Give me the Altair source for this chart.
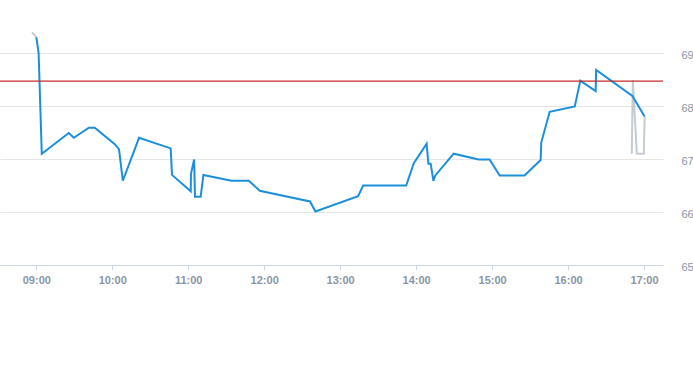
import altair as alt
import pandas as pd

DAY = "2024-01-02T"

# Main session (blue)
main_times = ["09:00:00", "09:01:50", "09:04:20", "09:25:40", "09:29:40", "09:41:30", "09:46:10",
              "10:02:00", "10:05:20", "10:08:20", "10:21:10", "10:46:10", "10:47:10", "11:02:00",
              "11:02:10", "11:04:40", "11:05:20", "11:09:50", "11:12:00", "11:34:10", "11:47:50",
              "11:56:30", "12:36:10", "12:40:30", "13:14:10", "13:18:10", "13:52:10", "13:58:10",
              "14:08:20", "14:09:40", "14:11:30", "14:13:40", "14:15:10", "14:29:40", "14:49:20",
              "14:58:00", "15:06:00", "15:25:40", "15:38:20", "15:38:50", "15:45:30", "16:05:20",
              "16:09:40", "16:21:50", "16:22:10", "16:50:50", "17:00:30"]
main_values = [69.30, 69.00, 67.10, 67.49, 67.40, 67.59, 67.59,
               67.28, 67.18, 66.59, 67.40, 67.20, 66.70, 66.39,
               66.72, 66.99, 66.29, 66.29, 66.70, 66.59, 66.59,
               66.40, 66.20, 66.01, 66.30, 66.50, 66.50, 66.92,
               67.29, 66.91, 66.91, 66.59, 66.69, 67.10, 66.99,
               66.99, 66.69, 66.69, 66.98, 67.31, 67.89, 67.99,
               68.48, 68.28, 68.68, 68.19, 67.80]

# Pre / post session (grey)
pre_times = ["08:56:40", "09:00:00"]
pre_values = [69.39, 69.30]
post_times = ["16:50:20", "16:51:10", "16:54:20", "16:59:50", "17:00:30"]
post_values = [67.10, 68.49, 67.10, 67.10, 67.80]

ref_value = [68.47]

y_ticks = [65, 66, 67, 68, 69]
x_tick_hours = [9, 10, 11, 12, 13, 14, 15, 16, 17]
x_domain_start = (8, 31, 20)
x_domain_end = (17, 15, 0)


def dt(h, m=0, s=0):
    return alt.DateTime(year=2024, month=1, date=2, hours=h, minutes=m, seconds=s)


main_df = pd.DataFrame({"t": [DAY + t for t in main_times], "v": main_values})
grey_df = pd.DataFrame({
    "t": [DAY + t for t in pre_times] + [DAY + t for t in post_times],
    "v": pre_values + post_values,
    "seg": ["pre"] * len(pre_times) + ["post"] * len(post_times),
})
ref_df = pd.DataFrame({"v": ref_value})

x_enc = alt.X(
    "t:T",
    scale=alt.Scale(domain=[dt(*x_domain_start), dt(*x_domain_end)]),
    axis=alt.Axis(
        format="%H:%M", values=[dt(h) for h in x_tick_hours], title=None,
        grid=False, domainColor="#ccd6eb", tickColor="#ccd6eb", tickSize=5,
        labelColor="#8a95a5", labelFontSize=11, labelFontWeight="bold",
        labelPadding=4, labelFont="Liberation Sans",
    ),
)
y_enc = alt.Y(
    "v:Q",
    scale=alt.Scale(domain=[65, 70], nice=False, zero=False),
    axis=alt.Axis(
        orient="right", values=y_ticks, title=None, domain=False, ticks=False, tickSize=0,
        gridColor="#e6e6e6", labelColor="#8a95a5", labelFontSize=11, labelPadding=18,
        labelOffset=2, labelFont="Liberation Sans", labelAlign="left",
    ),
)

grey = alt.Chart(grey_df).mark_line(color="#c3cbd3", strokeWidth=2).encode(
    x=x_enc, y=y_enc, detail="seg:N"
)
blue = alt.Chart(main_df).mark_line(color="#1b8fdc", strokeWidth=2).encode(x="t:T", y="v:Q")
ref = alt.Chart(ref_df).mark_rule(color="#c42b2b", strokeWidth=1.3).encode(y="v:Q")

chart = alt.layer(grey, blue, ref).properties(
    width=663, height=265,
    autosize=alt.AutoSizeParams(type="none"),
    padding={"left": 0, "top": 0, "right": 30, "bottom": 100},
).configure_view(stroke=None)

chart.save("out.html", embed_options={"renderer": "svg", "actions": False})
